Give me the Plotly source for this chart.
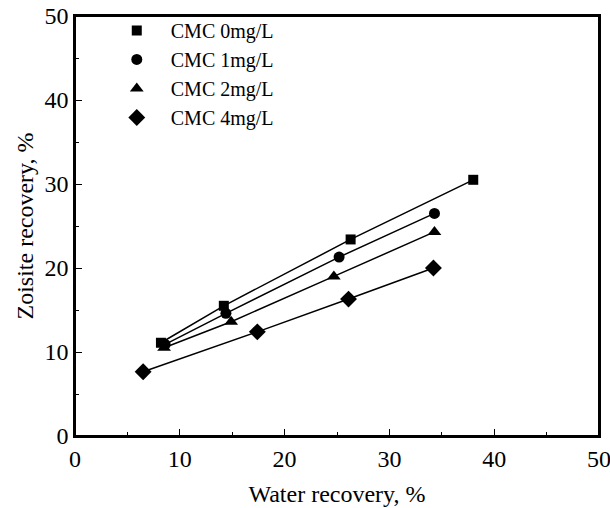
import plotly.graph_objects as go

# data
water_0 = [8.2, 14.2, 26.3, 38.0]
zois_0 = [11.1, 15.5, 23.4, 30.5]

water_1 = [8.6, 14.4, 25.2, 34.3]
zois_1 = [10.9, 14.6, 21.3, 26.5]

water_2 = [8.5, 14.9, 24.7, 34.3]
zois_2 = [10.5, 13.6, 19.0, 24.3]

water_4 = [6.5, 17.4, 26.1, 34.2]
zois_4 = [7.65, 12.4, 16.3, 20.0]

series = [
    ("CMC 0mg/L", water_0, zois_0, "square", 10),
    ("CMC 1mg/L", water_1, zois_1, "circle", 11),
    ("CMC 2mg/L", water_2, zois_2, "triangle-up", 12),
    ("CMC 4mg/L", water_4, zois_4, "diamond", 13),
]

FONT = "Times New Roman, Liberation Serif, serif"

fig = go.Figure()

# connecting lines (kept out of the legend)
for name, xs, ys, sym, sz in series:
    fig.add_trace(go.Scatter(
        x=xs, y=ys, mode="lines", showlegend=False, hoverinfo="skip",
        line=dict(color="black", width=1.5),
    ))

# markers (legend shows symbol only)
for name, xs, ys, sym, sz in series:
    fig.add_trace(go.Scatter(
        x=xs, y=ys, name=name, mode="markers",
        marker=dict(symbol=sym, size=sz, color="black"),
    ))


def axis_stuff(figure):
    common = dict(
        range=[0, 50], dtick=10, automargin=False,
        ticks="inside", ticklen=7, tickwidth=1.3, tickcolor="black",
        minor=dict(dtick=5, ticks="inside", ticklen=4, tickwidth=1.3, tickcolor="black"),
        showline=True, linecolor="black", linewidth=1.5, mirror=True,
        showgrid=False, zeroline=False, ticklabeloverflow="allow",
        tickfont=dict(size=24, family=FONT, color="black"),
    )
    figure.update_xaxes(title=dict(text="Water recovery, %", font=dict(size=24, family=FONT, color="black"),
                                   standoff=15), **common)
    figure.update_yaxes(title=dict(text="Zoisite recovery, %", font=dict(size=24, family=FONT, color="black"),
                                   standoff=4), **common)
    return figure


fig = axis_stuff(fig)

# frame round the plot area
fig.add_shape(type="rect", xref="paper", yref="paper", x0=0, y0=0, x1=1, y1=1,
              line=dict(color="black", width=2), layer="above")

fig.update_layout(
    width=610, height=508,
    margin=dict(l=75, r=11, t=16, b=72),
    plot_bgcolor="white", paper_bgcolor="white",
    font=dict(family=FONT, color="black"),
    legend=dict(
        x=0.053, y=1.012, xanchor="left", yanchor="top",
        font=dict(size=20, family=FONT, color="black"),
        bgcolor="rgba(0,0,0,0)", itemwidth=58,
        tracegroupgap=0,
    ),
)

# drop the default 8 px page margin so the figure sits at the window corner
fig.write_html("out.html", config={"displayModeBar": False},
               post_script="document.body.style.margin = '0';")
